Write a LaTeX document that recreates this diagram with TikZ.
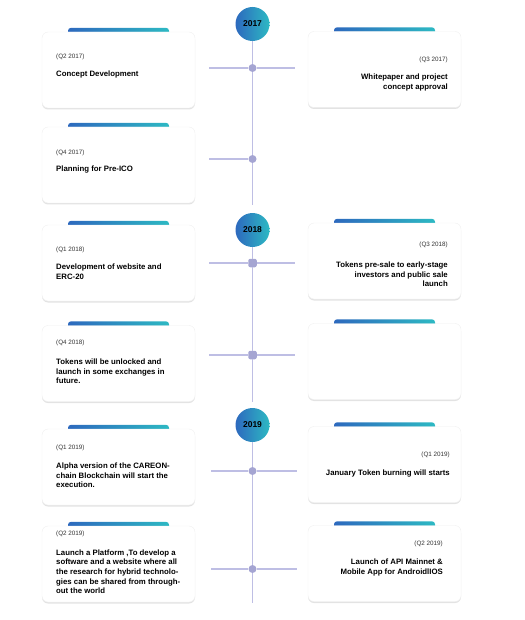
\documentclass[tikz,border=0pt]{standalone}
\usepackage{fontspec}
\setmainfont{Liberation Sans}
\usetikzlibrary{positioning,shadows,backgrounds}
\definecolor{tlline}{RGB}{190,190,228}
\definecolor{tldot}{RGB}{165,165,210}
\definecolor{tlblue}{RGB}{45,105,190}
\definecolor{tlteal}{RGB}{45,185,195}
\begin{document}
\begin{tikzpicture}[x=1pt, y=-1pt,
  card/.style={fill=white, draw=black!6, rounded corners=6pt, minimum width=153pt,
    minimum height=76pt, drop shadow={shadow xshift=0pt, shadow yshift=-1.5pt, opacity=0.22}},
  topbar/.style={rounded corners=3pt, left color=tlblue, right color=tlteal,
    minimum width=101pt, minimum height=8pt, inner sep=0pt},
  year/.style={circle, minimum size=34pt, inner sep=0pt, left color=tlblue, right color=tlteal,
    font=\fontsize{8.5}{10}\selectfont\bfseries},
  date/.style={inner sep=0pt, font=\fontsize{6.3}{8}\selectfont, text=black!80},
  title/.style={inner sep=0pt, font=\fontsize{7.8}{9.8}\selectfont\bfseries},
  dot/.style={circle, fill=tldot, minimum size=8pt, inner sep=0pt},
  sqdot/.style={fill=tldot, rounded corners=2pt, minimum size=8.5pt, inner sep=0pt},
  link/.style={tlline, line width=1.1pt}]
\useasboundingbox (0,0) rectangle (524,620);

% Year markers
\node[year] (y17) at (252.5,24) {2017};
\node[year] (y18) at (252.5,230) {2018};
\node[year] (y19) at (252.5,425) {2019};

% Junction dots
\node[dot] (d1) at (252.5,68) {};
\node[dot] (d2) at (252.5,159) {};
\node[sqdot] (d3) at (252.5,263) {};
\node[sqdot] (d4) at (252.5,355) {};
\node[dot] (d5) at (252.5,471) {};
\node[dot] (d6) at (252.5,569) {};

% Line ends
\coordinate (v17) at (252.5,205);
\coordinate (v18) at (252.5,402);
\coordinate (v19) at (252.5,603);
\coordinate (h1l) at (209,68);  \coordinate (h1r) at (295,68);
\coordinate (h2l) at (209,159);
\coordinate (h3l) at (209,263); \coordinate (h3r) at (295,263);
\coordinate (h4l) at (209,355); \coordinate (h4r) at (295,355);
\coordinate (h5l) at (211,471); \coordinate (h5r) at (297,471);
\coordinate (h6l) at (211,569); \coordinate (h6r) at (297,569);

\draw[link] (y17) -- (d1) -- (d2) -- (v17);
\draw[link] (y18) -- (d3) -- (d4) -- (v18);
\draw[link] (y19) -- (d5) -- (d6) -- (v19);
\draw[link] (h1l) -- (d1) -- (h1r);
\draw[link] (h2l) -- (d2);
\draw[link] (h3l) -- (d3) -- (h3r);
\draw[link] (h4l) -- (d4) -- (h4r);
\draw[link] (h5l) -- (d5) -- (h5r);
\draw[link] (h6l) -- (d6) -- (h6r);

% 2017
\node[card] (c1) at (118.5,70) {};
\node[date, anchor=west] (c1d) at (56,57) {(Q2 2017)};
\node[title, anchor=north west, align=left] (c1t) at (56,70.5) {Concept Development};

\node[card] (c2) at (384.5,69.5) {};
\node[date, anchor=east] (c2d) at (448,60) {(Q3 2017)};
\node[title, anchor=north east, align=right] (c2t) at (448,73.5) {Whitepaper and project\\concept approval};

\node[card] (c3) at (118.5,165) {};
\node[date, anchor=west] (c3d) at (56,153) {(Q4 2017)};
\node[title, anchor=north west, align=left] (c3t) at (56,165.5) {Planning for Pre-ICO};

% 2018
\node[card] (c4) at (118.5,263) {};
\node[date, anchor=west] (c4d) at (56,250) {(Q1 2018)};
\node[title, anchor=north west, align=left] (c4t) at (56,263.5) {Development of website and\\ERC-20};

\node[card] (c5) at (384.5,261) {};
\node[date, anchor=east] (c5d) at (448,245) {(Q3 2018)};
\node[title, anchor=north east, align=right] (c5t) at (448,261.5) {Tokens pre-sale to early-stage\\investors and public sale\\launch};

\node[card] (c6) at (118.5,363.5) {};
\node[date, anchor=west] (c6d) at (56,343) {(Q4 2018)};
\node[title, anchor=north west, align=left] (c6t) at (56,358.5) {Tokens will be unlocked and\\launch in some exchanges in\\future.};

\node[card] (c7) at (384.5,361.5) {};

% 2019
\node[card] (c8) at (118.5,467) {};
\node[date, anchor=west] (c8d) at (56,448) {(Q1 2019)};
\node[title, anchor=north west, align=left] (c8t) at (56,462.5) {Alpha version of the CAREON-\\chain Blockchain will start the\\execution.};

\node[card] (c9) at (384.5,464.5) {};
\node[date, anchor=east] (c9d) at (450,455) {(Q1 2019)};
\node[title, anchor=north east, align=right] (c9t) at (450,469.5) {January Token burning will starts};

\node[card] (c10) at (118.5,564) {};
\node[date, anchor=west] (c10d) at (56,534) {(Q2 2019)};
\node[title, anchor=north west, align=left, font=\fontsize{7.8}{9.6}\selectfont\bfseries] (c10t) at (56,549.5)
  {Launch a Platform ,To develop a\\software and a website where all\\the research for hybrid technolo-\\gies can be shared from through-\\out the world};

\node[card] (c11) at (384.5,563.5) {};
\node[date, anchor=east] (c11d) at (443,544) {(Q2 2019)};
\node[title, anchor=north east, align=right] (c11t) at (443,558.5) {Launch of API Mainnet \&\\Mobile App for AndroidlIOS};

% Coloured tabs behind the cards
\begin{scope}[on background layer]
\foreach \c in {c1,c2,c3,c4,c5,c6,c7,c8,c9,c10,c11}
  \node[topbar] (\c bar) at (\c.north) {};
\end{scope}

\end{tikzpicture}
\end{document}
